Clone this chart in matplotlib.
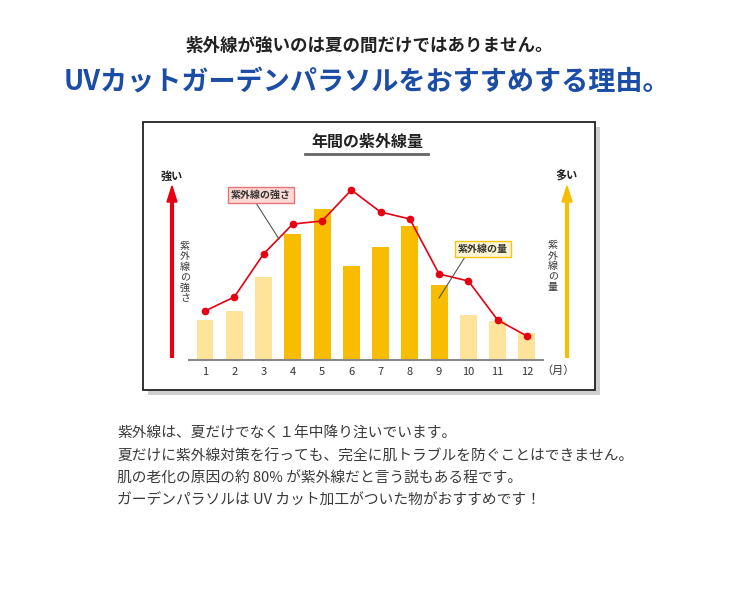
import matplotlib
matplotlib.use("Agg")
import matplotlib.pyplot as plt
from matplotlib.patches import Rectangle, Polygon

plt.rcParams['font.family'] = ['Noto Sans CJK JP', 'DejaVu Sans']

# ---- data ----
months = [1, 2, 3, 4, 5, 6, 7, 8, 9, 10, 11, 12]
month_labels = ['1', '2', '3', '4', '5', '6', '7', '8', '9', '10', '11', '12']
uv_amount = [40, 49, 83, 126, 151, 94, 113, 134, 75, 45, 39, 27]      # bars
uv_strength = [49, 63, 106, 136, 139, 170, 148, 141, 86, 79, 40, 24]  # line
peak_months = [4, 5, 6, 7, 8, 9]

header1 = '紫外線が強いのは夏の間だけではありません。'
header2 = 'UVカットガーデンパラソルをおすすめする理由。'
chart_title = '年間の紫外線量'
body_lines = [
    '紫外線は、夏だけでなく１年中降り注いでいます。',
    '夏だけに紫外線対策を行っても、完全に肌トラブルを防ぐことはできません。',
    '肌の老化の原因の約 80% が紫外線だと言う説もある程です。',
    'ガーデンパラソルは UV カット加工がついた物がおすすめです！',
]

W, H = 740, 603
fig = plt.figure(figsize=(W / 100, H / 100), dpi=100)
fig.patch.set_facecolor('white')

# background axes in pixel coordinates
bg = fig.add_axes([0, 0, 1, 1], zorder=0)
bg.set_xlim(0, W)
bg.set_ylim(H, 0)
bg.axis('off')

RED = '#E60012'
GOLD = '#F8BC00'
LIGHT = '#FDE49A'

# headers
bg.text(369, 46, header1, ha='center', va='center', fontsize=12.6,
        fontweight='bold', color='#222222')
bg.text(367, 82, header2, ha='center', va='center', fontsize=19.5,
        fontweight='bold', color='#1B4DA6')

# chart frame with shadow
bg.add_patch(Rectangle((148, 127), 452, 268, facecolor='#CFCFCF', edgecolor='none'))
bg.add_patch(Rectangle((143, 122), 452, 268, facecolor='white', edgecolor='#222222', lw=1.3))

# chart title with underline
bg.text(367, 142, chart_title, ha='center', va='center', fontsize=11.5,
        fontweight='bold', color='#222222')
bg.plot([305, 428], [154, 154], color='#666666', lw=2)

# left arrow (red)
bg.plot([172, 172], [358, 200], color=RED, lw=3, solid_capstyle='butt')
bg.add_patch(Polygon([[167, 202], [177, 202], [172, 186]], closed=True, color=RED))
bg.text(172, 176, '強い', ha='center', va='center', fontsize=8, fontweight='bold', color='#222222')
# right arrow (gold)
bg.plot([567, 567], [358, 200], color=GOLD, lw=3, solid_capstyle='butt')
bg.add_patch(Polygon([[562, 202], [572, 202], [567, 186]], closed=True, color=GOLD))
bg.text(567, 176, '多い', ha='center', va='center', fontsize=8, fontweight='bold', color='#222222')

# vertical labels
bg.text(185, 272, '\n'.join('紫外線の強さ'), ha='center', va='center', fontsize=7.2,
        color='#333333', linespacing=1.05)
bg.text(553, 266, '\n'.join('紫外線の量'), ha='center', va='center', fontsize=7.2,
        color='#333333', linespacing=1.05)

# body text
for i, line in enumerate(body_lines):
    bg.text(117, 434 + i * 22.3, line, ha='left', va='center', fontsize=10.6,
            color='#3a3a3a')

# data axes
left_px, right_px = 189, 543
base_px, top_px = 360, 180
ax = fig.add_axes([left_px / W, (H - base_px) / H, (right_px - left_px) / W,
                   (base_px - top_px) / H], zorder=2)
ax.patch.set_alpha(0)
ax.set_xlim(0.453, 12.55)
ax.set_ylim(0, 180)

colors = [GOLD if m in peak_months else LIGHT for m in months]
ax.bar(months, uv_amount, width=0.58, color=colors, zorder=1)
ax.plot(months, uv_strength, color=RED, lw=1.2, marker='o', markersize=4.5, zorder=3)

for s in ['top', 'left', 'right']:
    ax.spines[s].set_visible(False)
ax.spines['bottom'].set_color('#888888')
ax.spines['bottom'].set_linewidth(1.5)
ax.set_yticks([])
ax.set_xticks(months)
ax.set_xticklabels(month_labels, fontsize=8, color='#333333')
ax.tick_params(axis='x', length=0, pad=5)
ax.text(12.5, -11, '（月）', ha='left', va='center', fontsize=8, color='#333333',
        clip_on=False)

# overlay axes for callouts (drawn above the bars)
fg = fig.add_axes([0, 0, 1, 1], zorder=4)
fg.set_xlim(0, W)
fg.set_ylim(H, 0)
fg.axis('off')
fg.patch.set_alpha(0)

fg.plot([256, 279], [203, 239], color='#555555', lw=0.8)
fg.text(260.5, 194.5, '紫外線の強さ', ha='center', va='center', fontsize=7.2,
        fontweight='bold', color='#333333',
        bbox=dict(boxstyle='square,pad=0.3', facecolor='#FBDAD3', edgecolor='#E8747A', lw=1.0))
fg.plot([465, 439], [257, 298], color='#555555', lw=0.8)
fg.text(482.5, 249, '紫外線の量', ha='center', va='center', fontsize=7.2,
        fontweight='bold', color='#333333',
        bbox=dict(boxstyle='square,pad=0.3', facecolor='#FFF5D2', edgecolor='#F5C518', lw=1.0))

fig.savefig('out.png', dpi=100, facecolor='white')
